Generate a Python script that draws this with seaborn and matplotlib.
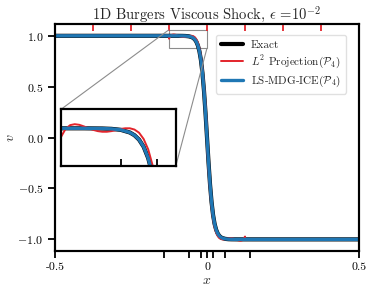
import matplotlib
matplotlib.use("Agg")
import matplotlib.pyplot as plt
import seaborn as sns
import pandas as pd
from mpl_toolkits.axes_grid1.inset_locator import mark_inset

sns.set_style("ticks")
plt.rcParams.update({
    "font.family": "serif",
    "font.serif": ["cmr10", "DejaVu Serif"],
    "mathtext.fontset": "cm",
    "axes.formatter.use_mathtext": True,
    "axes.unicode_minus": True,
    "axes.edgecolor": "black",
    "axes.linewidth": 1.5,
    "xtick.color": "black",
    "ytick.color": "black",
})

# ---------------- data ----------------
exact_x = [-0.5, -0.2, -0.1, -0.08, -0.07, -0.06, -0.05, -0.045, -0.04, -0.035,
           -0.03, -0.025, -0.02, -0.015, -0.01, -0.005, 0.0, 0.005, 0.01, 0.015,
           0.02, 0.025, 0.03, 0.035, 0.04, 0.045, 0.05, 0.06, 0.07, 0.08, 0.1,
           0.2, 0.5]
exact_v = [1.0, 1.0, 0.9999, 0.9993, 0.9982, 0.9951, 0.9866, 0.978, 0.964, 0.9414,
           0.9051, 0.8483, 0.7616, 0.6351, 0.4621, 0.2449, 0.0, -0.2449, -0.4621, -0.6351,
           -0.7616, -0.8483, -0.9051, -0.9414, -0.964, -0.978, -0.9866, -0.9951, -0.9982, -0.9993, -0.9999,
           -1.0, -1.0]

l2_x = [-0.5, -0.125,
        -0.125, -0.12, -0.115, -0.11, -0.105, -0.1, -0.095, -0.09, -0.085, -0.08,
        -0.075, -0.07, -0.065, -0.06, -0.055, -0.05, -0.045, -0.04, -0.035, -0.03,
        -0.025, -0.02, -0.015, -0.01, -0.005, 0.0,
        0.0, 0.005, 0.01, 0.015, 0.02, 0.025, 0.03, 0.035, 0.04, 0.045, 0.05,
        0.055, 0.06, 0.065, 0.07, 0.075, 0.08, 0.085, 0.09, 0.095, 0.1, 0.105,
        0.11, 0.115, 0.12, 0.125,
        0.125, 0.5]
l2_v = [1.0, 1.0,
        0.972, 0.998, 1.01, 1.013, 1.011, 1.006, 1.0, 0.995, 0.991, 0.989,
        0.989, 0.991, 0.994, 0.998, 1.0, 1.0, 0.996, 0.986, 0.966, 0.933,
        0.88, 0.80, 0.68, 0.52, 0.32, 0.08,
        -0.08, -0.32, -0.52, -0.68, -0.80, -0.88, -0.933, -0.966, -0.986, -0.996, -1.0,
        -1.0, -0.998, -0.994, -0.991, -0.989, -0.989, -0.991, -0.995, -1.0, -1.006, -1.011,
        -1.013, -1.01, -0.998, -0.972,
        -1.0, -1.0]

mdg_x = [-0.5, -0.2, -0.14, -0.1, -0.08, -0.07, -0.06, -0.05, -0.045, -0.04, -0.035,
         -0.03, -0.025, -0.02, -0.015, -0.01, -0.005, 0.0, 0.005, 0.01, 0.015,
         0.02, 0.025, 0.03, 0.035, 0.04, 0.045, 0.05, 0.06, 0.07, 0.08, 0.1,
         0.14, 0.2, 0.5]
mdg_v = [1.0, 1.0, 1.0, 0.9999, 0.9993, 0.9982, 0.9951, 0.9866, 0.978, 0.964, 0.9414,
         0.9051, 0.8483, 0.7616, 0.6351, 0.4621, 0.2449, 0.0, -0.2449, -0.4621, -0.6351,
         -0.7616, -0.8483, -0.9051, -0.9414, -0.964, -0.978, -0.9866, -0.9951, -0.9982, -0.9993, -0.9999,
         -1.0, -1.0, -1.0]

l2_mesh = [-0.375, -0.25, -0.125, 0.0, 0.125, 0.25, 0.375]
mdg_mesh = [-0.14, -0.06, -0.02, 0.02, 0.06, 0.14]
xticks = [-0.5, 0.0, 0.5]
xticklabels = ["-0.5", "0", "0.5"]
yticks = [1.0, 0.5, 0.0, -0.5, -1.0]
inset_ticks = [-0.06, -0.02]

series = [
    ("Exact", exact_x, exact_v, "black", 3.0),
    (r"$L^2$ Projection($\mathcal{P}_4$)", l2_x, l2_v, "#e3242b", 1.4),
    (r"LS-MDG-ICE($\mathcal{P}_4$)", mdg_x, mdg_v, "#1f77b4", 2.4),
]

# ---------------- figure ----------------
fig = plt.figure(figsize=(3.74, 2.94), dpi=100)
ax = fig.add_axes([0.147, 0.146, 0.813, 0.772])

def draw(a, legend):
    for name, xs, vs, col, lw in series:
        df = pd.DataFrame({"x": xs, "v": vs})
        sns.lineplot(data=df, x="x", y="v", ax=a, color=col, lw=lw, sort=False,
                     estimator=None, label=name if legend else None, legend=False)

draw(ax, True)
ax.set_xlim(-0.5, 0.5)
ax.set_ylim(-1.115, 1.115)
ax.set_xticks(xticks)
ax.set_xticklabels(xticklabels)
ax.set_xticks(mdg_mesh, minor=True)
ax.set_yticks(yticks)
ax.tick_params(axis="both", which="both", direction="out", length=5, width=1.3, labelsize=8.5)
ax.set_xlabel("$x$", fontsize=10, labelpad=2)
ax.set_ylabel("$v$", fontsize=10, labelpad=0.5)
ax.set_title(r"1D Burgers Viscous Shock, $\epsilon$ =$10^{-2}$", fontsize=10.5, pad=4)

top = ax.twiny()
top.set_xlim(ax.get_xlim())
top.set_xticks(l2_mesh)
top.tick_params(axis="x", direction="in", length=5, width=1.3, color="#e3242b",
                labeltop=False)

leg = ax.legend(loc="upper right", bbox_to_anchor=(0.957, 0.952), borderaxespad=0,
                fontsize=8, frameon=True, fancybox=True,
                handlelength=2.0, borderpad=0.45, labelspacing=0.3, handletextpad=0.7)
leg.get_frame().set_edgecolor("0.85")

axins = fig.add_axes([0.163, 0.435, 0.307, 0.193])
draw(axins, False)
axins.set_xlim(-0.125, 0.0)
axins.set_ylim(0.88, 1.06)
axins.set_xticks(inset_ticks)
axins.set_xticklabels([])
axins.set_yticks([])
axins.set_xlabel("")
axins.set_ylabel("")
axins.tick_params(axis="x", direction="in", length=5, width=1.3)
for s in axins.spines.values():
    s.set_linewidth(1.6)
mark_inset(ax, axins, loc1=2, loc2=4, fc="none", ec="0.55", lw=0.8)

fig.savefig("out.png", dpi=100)
